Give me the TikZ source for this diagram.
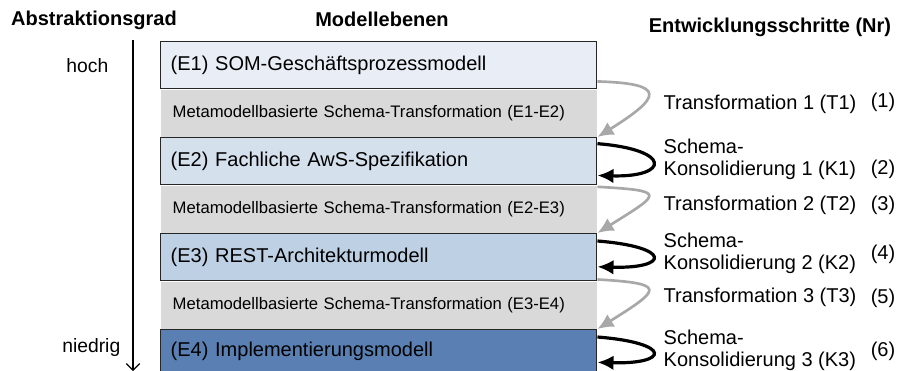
\documentclass[tikz,border=0pt]{standalone}
\usepackage{fontspec}
\setmainfont{Liberation Sans}
\usetikzlibrary{positioning,arrows.meta}
\definecolor{ebeneA}{HTML}{E9EEF6}
\definecolor{ebeneB}{HTML}{D5E0ED}
\definecolor{ebeneC}{HTML}{BDD0E4}
\definecolor{ebeneD}{HTML}{5A80B3}
\definecolor{bandgrau}{HTML}{D9D9D9}
\definecolor{pfeilgrau}{HTML}{A8A8A8}
\begin{document}
\begin{tikzpicture}[x=0.75pt, y=-0.75pt,
  ebene/.style={rectangle, draw=black!85, line width=1.1pt, minimum height=35.25pt,
    text width=312pt, inner xsep=7.5pt, align=left, font=\fontsize{15}{18}\selectfont},
  band/.style={rectangle, fill=bandgrau, minimum height=35.25pt,
    text width=309pt, inner xsep=9pt, align=left, font=\fontsize{12.5}{15}\selectfont},
  titel/.style={font=\fontsize{15}{18}\selectfont\bfseries},
  schritt/.style={anchor=west, align=left, font=\fontsize{15}{16.5}\selectfont},
  nummer/.style={font=\fontsize{15}{17}\selectfont},
  trafopfeil/.style={draw=pfeilgrau, line width=2pt, -{Latex[length=12pt,width=11pt]}},
  konspfeil/.style={draw=black, line width=2.4pt, -{Latex[length=12pt,width=11pt]}}]
\useasboundingbox (0,0) rectangle (899,371);

% Ueberschriften
\node[titel] (abs) at (94,20) {Abstraktionsgrad};
\node[titel] (mod) at (382,19) {Modellebenen};
\node[titel] (ent) at (770,27) {Entwicklungsschritte (Nr)};

% Abstraktionsachse
\coordinate (oben) at (133,40);
\coordinate (unten) at (133,371);
\draw[line width=0.9pt, -{Straight Barb[length=5pt,width=10pt]}] (oben) -- (unten);
\node[anchor=east, font=\fontsize{14.5}{17}\selectfont] (hoch) at (113,66) {hoch};
\node[anchor=east, font=\fontsize{14.5}{17}\selectfont] (niedrig) at (125,347) {niedrig};

% Modellebenen
\node[ebene, fill=ebeneA, anchor=north west] (E1) at (160,41) {(E1) SOM-Geschäftsprozessmodell};
\node[band] (G1) [below=0pt of E1] {Metamodellbasierte Schema-Transformation (E1-E2)};
\node[ebene, fill=ebeneB] (E2) [below=0pt of G1] {(E2) Fachliche AwS-Spezifikation};
\node[band] (G2) [below=0pt of E2] {Metamodellbasierte Schema-Transformation (E2-E3)};
\node[ebene, fill=ebeneC] (E3) [below=0pt of G2] {(E3) REST-Architekturmodell};
\node[band] (G3) [below=0pt of E3] {Metamodellbasierte Schema-Transformation (E3-E4)};
\node[ebene, fill=ebeneD, minimum height=40pt, text depth=11pt] (E4) [below=0pt of G3] {(E4) Implementierungsmodell};

% Entwicklungsschritte
\node[schritt] (T1) at (659,104) {Transformation 1 (T1)};
\node[schritt] (K1) at (659,159) {Schema-\\Konsolidierung 1 (K1)};
\node[schritt] (T2) at (659,205) {Transformation 2 (T2)};
\node[schritt] (K2) at (659,253) {Schema-\\Konsolidierung 2 (K2)};
\node[schritt] (T3) at (659,297) {Transformation 3 (T3)};
\node[schritt] (K3) at (659,350) {Schema-\\Konsolidierung 3 (K3)};
\node[nummer] (N1) at (883,102) {(1)};
\node[nummer] (N2) at (883,169) {(2)};
\node[nummer] (N3) at (883,205) {(3)};
\node[nummer] (N4) at (883,254) {(4)};
\node[nummer] (N5) at (883,298) {(5)};
\node[nummer] (N6) at (883,351) {(6)};

% Pfeile
\draw[trafopfeil] ([yshift=6pt]E1.south east) .. controls +(70,2) and +(64,-40) .. (E2.north east);
\draw[trafopfeil] ([yshift=-1pt]E2.south east) .. controls +(70,4) and +(64,-40) .. (E3.north east);
\draw[trafopfeil] ([yshift=1.5pt]E3.south east) .. controls +(70,4) and +(64,-40) .. (E4.north east);
\draw[konspfeil] ([yshift=-5pt]E2.north east) .. controls +(75,6) and +(72,2) .. ([yshift=7.5pt]E2.south east);
\draw[konspfeil] ([yshift=-6pt]E3.north east) .. controls +(75,6) and +(72,2) .. ([yshift=11pt]E3.south east);
\draw[konspfeil] ([yshift=-6pt]E4.north east) .. controls +(75,6) and +(72,2) .. ([yshift=-25pt]E4.north east);
\end{tikzpicture}
\end{document}
